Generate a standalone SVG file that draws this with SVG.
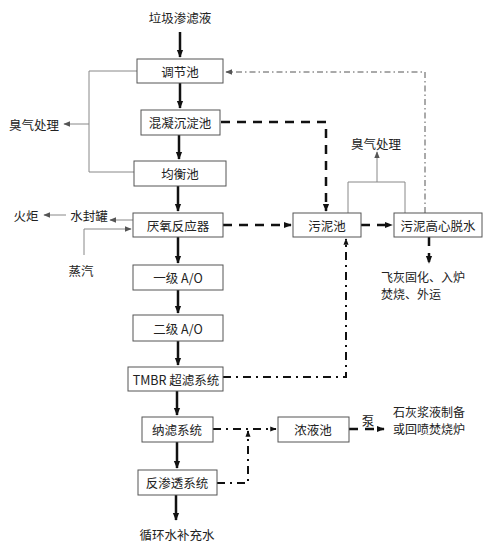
<svg xmlns="http://www.w3.org/2000/svg" width="500" height="546" viewBox="0 0 500 546">
<style>
text{font-family:"Noto Sans CJK SC","Liberation Sans",sans-serif;font-size:12.5px;fill:#222;dominant-baseline:central}
.sm{font-size:12px}
.box{fill:#fff;stroke:#555;stroke-width:1}
.main{stroke:#111;stroke-width:2.5;fill:none}
.thin{stroke:#888;stroke-width:1;fill:none}
.dash{stroke:#111;stroke-width:2.5;fill:none;stroke-dasharray:9 7}
.dd{stroke:#111;stroke-width:2;fill:none;stroke-dasharray:8 5 2 5}
.ddthin{stroke:#555;stroke-width:1;fill:none;stroke-dasharray:6 3 1.5 3}
</style>
<defs>
<marker id="ah" viewBox="0 0 10 10" refX="9" refY="5" markerWidth="3.2" markerHeight="3.2" orient="auto" markerUnits="strokeWidth"><path d="M0,1 L10,5 L0,9 z" fill="#111"/></marker>
<marker id="ahs" viewBox="0 0 10 10" refX="9" refY="5" markerWidth="7" markerHeight="7" orient="auto" markerUnits="userSpaceOnUse"><path d="M0,1 L10,5 L0,9 z" fill="#555"/></marker>
</defs>
<rect width="500" height="546" fill="#fff"/>
<g id="connectors">
<line class="main" x1="180" y1="32" x2="180" y2="57" marker-end="url(#ah)"/>
<line class="main" x1="180" y1="83" x2="180" y2="108" marker-end="url(#ah)"/>
<line class="main" x1="179" y1="135" x2="179" y2="159" marker-end="url(#ah)"/>
<line class="main" x1="178" y1="186" x2="178" y2="211" marker-end="url(#ah)"/>
<line class="main" x1="178" y1="237" x2="178" y2="263" marker-end="url(#ah)"/>
<line class="main" x1="178" y1="290" x2="178" y2="313" marker-end="url(#ah)"/>
<line class="main" x1="178" y1="341" x2="178" y2="365" marker-end="url(#ah)"/>
<line class="main" x1="177" y1="391" x2="177" y2="415" marker-end="url(#ah)"/>
<line class="main" x1="177" y1="442" x2="177" y2="468" marker-end="url(#ah)"/>
<line class="main" x1="176" y1="495" x2="176" y2="520" marker-end="url(#ah)"/>
<polyline class="thin" points="137,71 89,71 89,172 134,172"/>
<line class="thin" x1="89" y1="124" x2="64" y2="124" marker-end="url(#ahs)"/>
<line class="thin" x1="133" y1="220" x2="110" y2="220" marker-end="url(#ahs)"/>
<line class="thin" x1="66" y1="215" x2="44" y2="215" marker-end="url(#ahs)"/>
<polyline class="thin" points="84,255 84,229 131,229" marker-end="url(#ahs)"/>
<polyline class="thin" points="348,213 348,182 405,182 405,213"/>
<line class="thin" x1="377" y1="182" x2="377" y2="152" marker-end="url(#ahs)"/>
<polyline class="ddthin" points="425,213 425,72 226,72" marker-end="url(#ahs)"/>
<polyline class="dash" points="221,122 326,122 326,211" marker-end="url(#ah)"/>
<line class="dash" x1="223" y1="225" x2="291" y2="225" marker-end="url(#ah)"/>
<line class="dash" x1="361" y1="225" x2="392" y2="225" marker-end="url(#ah)"/>
<line class="dash" x1="429" y1="237" x2="429" y2="263" marker-end="url(#ah)"/>
<polyline class="dd" points="223,377 346,377 346,239" marker-end="url(#ah)"/>
<line class="dd" x1="213" y1="429" x2="276" y2="429" marker-end="url(#ah)"/>
<polyline class="dd" points="217,483 248,483 248,431" marker-end="url(#ah)"/>
<line class="dash" x1="349" y1="429" x2="384" y2="429" marker-end="url(#ah)"/>
</g>
<g id="n-input"><text x="180" y="17" text-anchor="middle">垃圾渗滤液</text></g>
<g id="n-tiaojie"><rect class="box" x="137" y="59" width="86" height="24"/><text x="180" y="71" text-anchor="middle">调节池</text></g>
<g id="n-hunning"><rect class="box" x="141" y="110" width="79" height="25"/><text x="180" y="122" text-anchor="middle">混凝沉淀池</text></g>
<g id="n-junheng"><rect class="box" x="134" y="161" width="92" height="25"/><text x="180" y="173" text-anchor="middle">均衡池</text></g>
<g id="n-odor-left"><text x="34" y="124" text-anchor="middle">臭气处理</text></g>
<g id="n-yanyang"><rect class="box" x="133" y="213" width="90" height="24"/><text x="178" y="225" text-anchor="middle">厌氧反应器</text></g>
<g id="n-shuifeng"><text x="89" y="215" text-anchor="middle">水封罐</text></g>
<g id="n-huoju"><text x="26" y="215" text-anchor="middle">火炬</text></g>
<g id="n-zhengqi"><text x="81" y="270" text-anchor="middle">蒸汽</text></g>
<g id="n-ao1"><rect class="box" x="133" y="265" width="90" height="25"/><text x="178" y="277" text-anchor="middle">一级 A/O</text></g>
<g id="n-ao2"><rect class="box" x="133" y="315" width="90" height="26"/><text x="178" y="328" text-anchor="middle">二级 A/O</text></g>
<g id="n-tmbr"><rect class="box" x="128" y="367" width="95" height="24"/><text x="176" y="379" text-anchor="middle">TMBR 超滤系统</text></g>
<g id="n-nf"><rect class="box" x="142" y="417" width="71" height="25"/><text x="177" y="429" text-anchor="middle">纳滤系统</text></g>
<g id="n-ro"><rect class="box" x="138" y="470" width="79" height="25"/><text x="177" y="482" text-anchor="middle">反渗透系统</text></g>
<g id="n-output"><text x="177" y="534" text-anchor="middle">循环水补充水</text></g>
<g id="n-wuni"><rect class="box" x="293" y="213" width="68" height="24"/><text x="327" y="225" text-anchor="middle">污泥池</text></g>
<g id="n-tuoshui"><rect class="box" x="394" y="213" width="88" height="24"/><text x="438" y="225" text-anchor="middle">污泥高心脱水</text></g>
<g id="n-odor-right"><text x="376" y="143" text-anchor="middle">臭气处理</text></g>
<g id="n-ash"><text class="sm" x="381" y="276">飞灰固化、入炉</text><text class="sm" x="381" y="293">焚烧、外运</text></g>
<g id="n-nongye"><rect class="box" x="278" y="417" width="71" height="25"/><text x="313" y="429" text-anchor="middle">浓液池</text></g>
<g id="n-beng"><text x="368" y="420" text-anchor="middle">泵</text></g>
<g id="n-lime"><text class="sm" x="393" y="411">石灰浆液制备</text><text class="sm" x="393" y="428">或回喷焚烧炉</text></g>
</svg>
